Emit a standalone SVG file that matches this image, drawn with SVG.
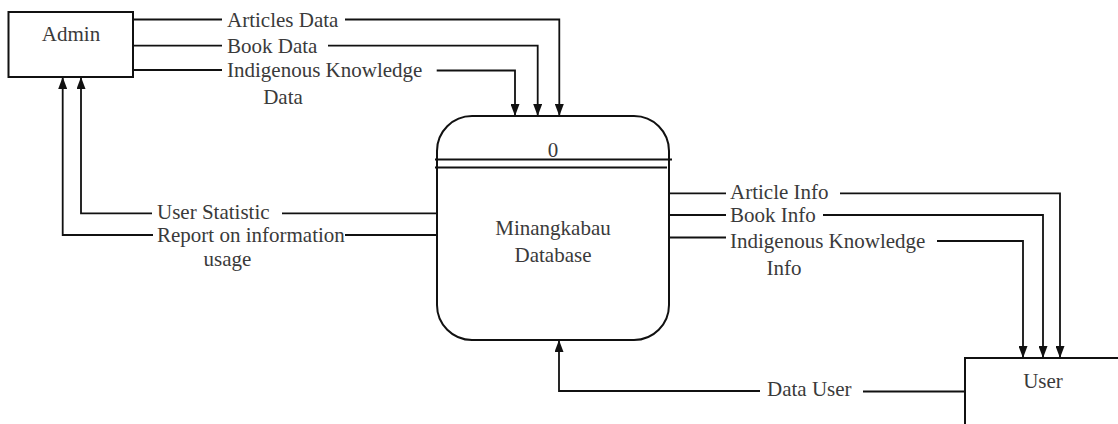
<svg xmlns="http://www.w3.org/2000/svg" width="1118" height="424" viewBox="0 0 1118 424">
  <style>
    .box { fill: #ffffff; stroke: #111111; stroke-width: 2; }
    .flow { fill: none; stroke: #111111; stroke-width: 1.8; }
    .arrow { marker-end: url(#head); }
    text { font-family: "Liberation Serif", "Times New Roman", serif; font-size: 21px; fill: #3a3a3a; }
    .mid { text-anchor: middle; }
  </style>
  <defs>
    <marker id="head" viewBox="0 0 12 9" refX="12" refY="4.5" markerWidth="12" markerHeight="9" markerUnits="userSpaceOnUse" orient="auto">
      <path d="M0,0 L12,4.5 L0,9 Z" fill="#111111"/>
    </marker>
  </defs>
  <rect width="1118" height="424" fill="#ffffff"/>

  <!-- external entity: Admin -->
  <g id="admin">
    <rect class="box" x="8.5" y="12" width="124.5" height="65"/>
    <text class="mid" x="71" y="41">Admin</text>
  </g>

  <!-- process 0: Minangkabau Database -->
  <g id="process-0">
    <rect class="box" x="437" y="116" width="232" height="224" rx="35" ry="35"/>
    <line class="flow" x1="435" y1="159.5" x2="672" y2="159.5"/>
    <line class="flow" x1="435" y1="167.5" x2="667" y2="167.5"/>
    <text class="mid" x="553" y="157">0</text>
    <text class="mid" x="553" y="235">Minangkabau</text>
    <text class="mid" x="553" y="262">Database</text>
  </g>

  <!-- external entity: User -->
  <g id="user">
    <rect class="box" x="965" y="358" width="170" height="80"/>
    <text class="mid" x="1043" y="388">User</text>
  </g>

  <!-- data flows -->
  <g id="connectors">
    <!-- Admin to database -->
    <path class="flow" d="M133,19.5 H222"/>
    <path class="flow arrow" d="M345,19.5 H559.3 V116"/>
    <path class="flow" d="M133,45.7 H222"/>
    <path class="flow arrow" d="M328,45.7 H537.7 V116"/>
    <path class="flow" d="M133,70 H222"/>
    <path class="flow arrow" d="M436.7,70.5 H515 V116"/>

    <!-- database to Admin -->
    <path class="flow" d="M437,213.3 H282"/>
    <path class="flow arrow" d="M152,213.3 H81 V77"/>
    <path class="flow" d="M437,235 H345"/>
    <path class="flow arrow" d="M153,235 H62.7 V77"/>

    <!-- database to User -->
    <path class="flow" d="M669,193.3 H726"/>
    <path class="flow arrow" d="M840,193.3 H1060 V358"/>
    <path class="flow" d="M669,215 H726"/>
    <path class="flow arrow" d="M823,215 H1043 V358"/>
    <path class="flow" d="M669,237.5 H726"/>
    <path class="flow arrow" d="M937,241 H1023 V358"/>

    <!-- User to database -->
    <path class="flow" d="M965,391.5 H863"/>
    <path class="flow arrow" d="M760,391 H559 V340"/>

    <!-- flow labels -->
    <text x="227" y="26.5">Articles Data</text>
    <text x="227" y="52.5">Book Data</text>
    <text x="227" y="77">Indigenous Knowledge</text>
    <text class="mid" x="283" y="104">Data</text>

    <text x="157" y="218.5">User Statistic</text>
    <text x="157" y="241.5">Report on information</text>
    <text class="mid" x="227.5" y="266">usage</text>

    <text x="730" y="199">Article Info</text>
    <text x="730" y="222">Book Info</text>
    <text x="730" y="247.5">Indigenous Knowledge</text>
    <text class="mid" x="784" y="274.5">Info</text>

    <text x="767" y="396">Data User</text>
  </g>
</svg>
